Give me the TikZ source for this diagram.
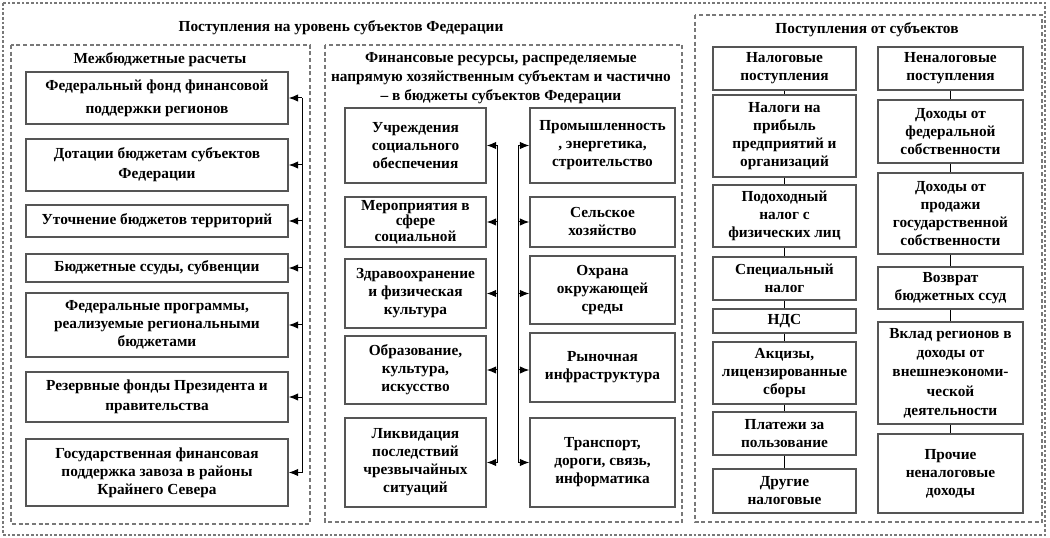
\documentclass[tikz,border=0pt]{standalone}
\usepackage{fontspec}
\setmainfont{Liberation Serif}
\usetikzlibrary{arrows.meta}
\definecolor{boxgray}{RGB}{85,85,85}
\definecolor{framegray}{RGB}{120,120,120}
\newcommand\bx[7][]{\node[box,#1,minimum width={(#5-#3)*0.75pt},minimum height={(#6-#4)*0.75pt}] (#2) at ({(#3+#5)/2},{(#4+#6)/2}) {#7};}
\begin{document}
\begin{tikzpicture}[x=0.75pt,y=-0.75pt,
 box/.style={draw=boxgray, line width=1.1pt, fill=white, align=center, inner sep=0pt, font=\bfseries\fontsize{11.5}{13.5}\selectfont},
 frame/.style={draw=framegray, line width=0.9pt, dash pattern=on 3pt off 2pt},
 outer/.style={draw=framegray, line width=0.9pt, dash pattern=on 2pt off 1.5pt},
 title/.style={font=\bfseries\fontsize{11.5}{14.5}\selectfont, align=center, inner sep=0pt},
 arr/.style={-{Latex[length=7pt,width=5.5pt]}, line width=0.75pt},
 link/.style={line width=0.75pt}]
\useasboundingbox (0,0) rectangle (1050,538);
\fill[white] (0,0) rectangle (1050,538);
% frames
\draw[outer] (3,3) rectangle (1045,535);
\draw[frame] (11,45) rectangle (310,524);
\draw[frame] (325,45) rectangle (682,522);
\draw[frame] (695,15) rectangle (1042,522);
% titles
\node[title] (t0) at (341,28) {Поступления на уровень субъектов  Федерации};
\node[title] (t1) at (160,60) {Межбюджетные расчеты};
\node[title] (t2) at (501,78) {Финансовые ресурсы, распределяемые\\напрямую хозяйственным субъектам и частично\\– в бюджеты субъектов  Федерации};
\node[title] (t3) at (867,30) {Поступления от субъектов};
% left column
\bx[font=\bfseries\fontsize{11.5}{17.5}\selectfont]{m1}{26}{72}{288}{124}{Федеральный фонд финансовой\\поддержки регионов}
\bx[font=\bfseries\fontsize{11.5}{15}\selectfont]{m2}{26}{139}{288}{191}{Дотации бюджетам субъектов\\Федерации}
\bx{m3}{26}{205}{288}{237}{Уточнение бюджетов территорий}
\bx{m4}{26}{254}{288}{282}{Бюджетные ссуды, субвенции}
\bx{m5}{26}{293}{288}{357}{Федеральные программы,\\реализуемые региональными\\бюджетами}
\bx[font=\bfseries\fontsize{11.5}{15}\selectfont]{m6}{26}{372}{288}{422}{Резервные фонды Президента и\\правительства}
\bx{m7}{26}{439}{288}{506}{Государственная финансовая\\поддержка завоза в районы\\Крайнего Севера}
% middle
\bx{l1}{345}{108}{486}{183}{Учреждения\\социального\\обеспечения}
\bx[font=\bfseries\fontsize{11.5}{11.5}\selectfont]{l2}{345}{197}{486}{247}{Мероприятия в\\сфере\\социальной}
\bx{l3}{345}{259}{486}{328}{Здравоохранение\\и физическая\\культура}
\bx{l4}{345}{336}{486}{404}{Образование,\\культура,\\искусство}
\bx{l5}{345}{418}{486}{507}{Ликвидация\\последствий\\чрезвычайных\\ситуаций}
\bx{r1}{530}{108}{675}{183}{Промышленность\\, энергетика,\\строительство}
\bx{r2}{530}{197}{675}{247}{Сельское\\хозяйство}
\bx{r3}{530}{256}{675}{324}{Охрана\\окружающей\\среды}
\bx{r4}{530}{333}{675}{402}{Рыночная\\инфраструктура}
\bx{r5}{530}{418}{675}{507}{Транспорт,\\дороги, связь,\\информатика}
% right
\bx{a1}{713}{47}{856}{90}{Налоговые\\поступления}
\bx{a2}{713}{95}{856}{177}{Налоги на\\прибыль\\предприятий и\\организаций}
\bx{a3}{713}{185}{856}{247}{Подоходный\\налог с\\физических лиц}
\bx{a4}{713}{257}{856}{300}{Специальный\\налог}
\bx{a5}{713}{309}{856}{333}{НДС}
\bx{a6}{713}{342}{856}{404}{Акцизы,\\лицензированные\\сборы}
\bx{a7}{713}{412}{856}{455}{Платежи за\\пользование}
\bx{a8}{713}{469}{856}{513}{Другие\\налоговые}
\bx{b1}{878}{47}{1023}{90}{Неналоговые\\поступления}
\bx{b2}{878}{100}{1023}{163}{Доходы от\\федеральной\\собственности}
\bx{b3}{878}{173}{1023}{254}{Доходы от\\продажи\\государственной\\собственности}
\bx{b4}{878}{267}{1023}{309}{Возврат\\бюджетных ссуд}
\bx[font=\bfseries\fontsize{11.5}{14.5}\selectfont]{b5}{878}{322}{1023}{424}{Вклад регионов в\\доходы от\\внешнеэкономи-\\ческой\\деятельности}
\bx{b6}{878}{434}{1023}{513}{Прочие\\неналоговые\\доходы}
% connectors left
\coordinate (mt) at (302,0);
\draw[link] (m1.east -| mt) -- (m7.east -| mt);
\foreach \i in {1,...,7}{\draw[arr] (m\i.east -| mt) -- (m\i.east);}
% connectors middle
\coordinate (lt) at (497,0);
\coordinate (rt) at (518,0);
\draw[link] (l1.east -| lt) -- (l5.east -| lt);
\draw[link] (l1.east -| rt) -- (l5.east -| rt);
\foreach \i in {1,...,5}{
  \draw[arr] (l\i.east -| lt) -- (l\i.east);
  \draw[arr] (l\i.east -| rt) -- (r\i.west |- l\i.east);
}
% connectors right
\foreach \i/\j in {1/2,2/3,3/4,4/5,5/6,6/7,7/8}{\draw[link] (a\i.south) -- (a\j.north);}
\foreach \i/\j in {1/2,2/3,3/4,4/5,5/6}{\draw[link] (b\i.south) -- (b\j.north);}
\end{tikzpicture}
\end{document}
